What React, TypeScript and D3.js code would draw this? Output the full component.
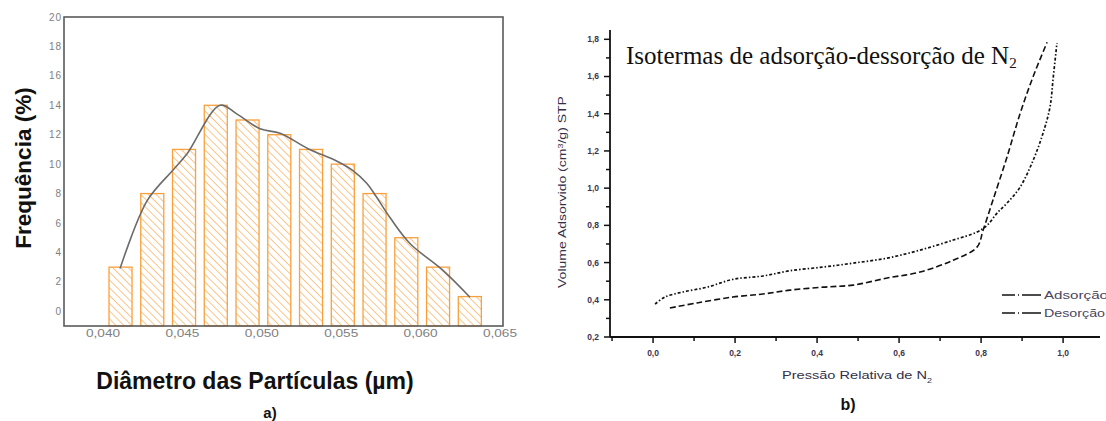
import React from 'react';
import * as d3 from 'd3';

// a) particle size histogram
const diameters = [0.0411, 0.0431, 0.0451, 0.0471, 0.0491, 0.0511, 0.0531, 0.0551, 0.0571, 0.0591, 0.0611, 0.0631];
const frequencies = [3, 8, 11, 14, 13, 12, 11, 10, 8, 5, 3, 1];
const fitX = [0.04107, 0.04277, 0.04441, 0.04529, 0.04737, 0.04844, 0.04989, 0.05115, 0.05291, 0.05474, 0.05574, 0.05662, 0.05807, 0.05933, 0.06141, 0.06311];
const fitY = [2.9, 7.5, 9.6, 10.7, 14.0, 13.4, 12.4, 12.1, 11.05, 10.2, 9.56, 8.68, 6.37, 4.61, 2.78, 0.95];
const histXTicks = [0.040, 0.045, 0.050, 0.055, 0.060, 0.065];
const histYTicks = [0, 2, 4, 6, 8, 10, 12, 14, 16, 18, 20];

// b) N2 isotherms
const adsP = [0.041, 0.107, 0.195, 0.268, 0.334, 0.415, 0.488, 0.571, 0.651, 0.732, 0.790, 0.805, 0.829, 0.863, 0.895, 0.927, 0.961];
const adsV = [0.356, 0.383, 0.415, 0.431, 0.452, 0.468, 0.479, 0.517, 0.549, 0.613, 0.683, 0.775, 0.936, 1.166, 1.400, 1.600, 1.784];
const desP = [0.005, 0.029, 0.073, 0.132, 0.195, 0.268, 0.334, 0.415, 0.488, 0.571, 0.651, 0.732, 0.790, 0.815, 0.839, 0.863, 0.895, 0.927, 0.951, 0.968, 0.976, 0.985];
const desV = [0.377, 0.415, 0.442, 0.468, 0.510, 0.528, 0.556, 0.576, 0.597, 0.624, 0.667, 0.721, 0.764, 0.801, 0.866, 0.919, 1.005, 1.15, 1.295, 1.435, 1.596, 1.78];
const isoXTicks = [0, 0.2, 0.4, 0.6, 0.8, 1.0];
const isoXMinor = [-0.1, 0.1, 0.3, 0.5, 0.7, 0.9];
const isoYTicks = [0.2, 0.4, 0.6, 0.8, 1.0, 1.2, 1.4, 1.6, 1.8];
const isoYMinor = [0.3, 0.5, 0.7, 0.9, 1.1, 1.3, 1.5, 1.7];
const seriesNames = ['Adsorção', 'Desorção'];

const orange = '#f9a03c';
const comma = (f: string) => (v: number) => d3.format(f)(v).replace('.', ',');

export default function App() {
  // histogram scales
  const hx = d3.scaleLinear().domain([0.03754, 0.06519]).range([64, 503]);
  const hy = d3.scaleLinear().domain([-1, 20]).range([326, 17]);
  const barW = hx(0.0411 + 0.00145) - hx(0.0411);
  const fitLine = d3.line<number>()
    .x((d, i) => hx(fitX[i]))
    .y(d => hy(d))
    .curve(d3.curveCatmullRom.alpha(0.5));

  // isotherm scales
  const ix = d3.scaleLinear().domain([-0.105, 1.09]).range([610, 1100]);
  const iy = d3.scaleLinear().domain([0.2, 1.85]).range([337, 30]);
  const adsLine = d3.line<number>().x((d, i) => ix(adsP[i])).y(d => iy(d)).curve(d3.curveCatmullRom.alpha(0.5));
  const desLine = d3.line<number>().x((d, i) => ix(desP[i])).y(d => iy(d)).curve(d3.curveCatmullRom.alpha(0.5));
  const dashes = ['6,3', '3,2,1.5,2'];

  return (
    <svg width={1106} height={421} style={{ position: 'absolute', left: 0, top: 0, background: '#fff' }}
      fontFamily="'Liberation Sans', Arial, sans-serif">
      <defs>
        <pattern id="hatch" patternUnits="userSpaceOnUse" width={5.5} height={5.5} patternTransform="rotate(-45)">
          <line x1={0} y1={0} x2={0} y2={5.5} stroke={orange} strokeWidth={1.2} />
        </pattern>
      </defs>

      {/* ---------- a) ---------- */}
      {diameters.map((d, i) => (
        <rect key={i} x={hx(d) - barW / 2} y={hy(frequencies[i])} width={barW}
          height={hy.range()[0] - hy(frequencies[i])}
          fill="url(#hatch)" stroke={orange} strokeWidth={1.3} />
      ))}
      <path d={fitLine(fitY) || ''} fill="none" stroke="#6b6b6b" strokeWidth={1.6} />
      <rect x={64} y={17} width={503 - 64} height={326 - 17} fill="none" stroke="#5a5a5a" strokeWidth={1.6} />
      {histYTicks.map(t => (
        <text key={t} x={62} y={hy(t)} dy="0.35em" textAnchor="end" fontSize={10} letterSpacing={1} fill="#808080">{t}</text>
      ))}
      {histXTicks.map(t => (
        <text key={t} x={hx(t) - 17} y={337} fontSize={10} textLength={34} lengthAdjust="spacingAndGlyphs" fill="#808080">{comma('.3f')(t)}</text>
      ))}
      <text transform="translate(31,168) rotate(-90)" textAnchor="middle" fontSize={22.5} fontWeight="bold" fill="#111">Frequência (%)</text>
      <text x={255} y={389} textAnchor="middle" fontSize={23} fontWeight="bold" fill="#111">Diâmetro das Partículas (µm)</text>
      <text x={270} y={418} textAnchor="middle" fontSize={15} fontWeight="bold" fill="#111">a)</text>

      {/* ---------- b) ---------- */}
      <path d={adsLine(adsV) || ''} fill="none" stroke="#111" strokeWidth={1.6} strokeDasharray={dashes[0]} />
      <path d={desLine(desV) || ''} fill="none" stroke="#111" strokeWidth={1.7} strokeDasharray={dashes[1]} />

      <line x1={610} y1={iy(1.85)} x2={610} y2={337} stroke="#111" strokeWidth={1.8} />
      <line x1={610} y1={337} x2={1100} y2={337} stroke="#111" strokeWidth={1.8} />
      {isoYTicks.map(t => (
        <g key={t}>
          <line x1={604} x2={610} y1={iy(t)} y2={iy(t)} stroke="#111" strokeWidth={1.5} />
          <text x={599} y={iy(t)} dy="0.35em" textAnchor="end" fontSize={8.5} fontWeight="bold" fill="#3a3550">{comma('.1f')(t)}</text>
        </g>
      ))}
      {isoYMinor.map(t => (
        <line key={t} x1={606} x2={610} y1={iy(t)} y2={iy(t)} stroke="#111" strokeWidth={1.5} />
      ))}
      {isoXTicks.map(t => (
        <g key={t}>
          <line x1={ix(t)} x2={ix(t)} y1={337} y2={343} stroke="#111" strokeWidth={1.5} />
          <text x={ix(t)} y={356} textAnchor="middle" fontSize={8.5} fontWeight="bold" fill="#3a3550">{comma('.1f')(t)}</text>
        </g>
      ))}
      {isoXMinor.map(t => (
        <line key={t} x1={ix(t)} x2={ix(t)} y1={337} y2={341} stroke="#111" strokeWidth={1.5} />
      ))}
      <text transform="translate(566,288) rotate(-90)" fontSize={11} textLength={192} lengthAdjust="spacingAndGlyphs" fill="#333048">
        Volume Adsorvido (cm<tspan baselineShift="super" fontSize={7}>3</tspan>/g) STP
      </text>
      <text x={782} y={379} fontSize={11.5} textLength={150} lengthAdjust="spacingAndGlyphs" fill="#333048">
        Pressão Relativa de N<tspan baselineShift="sub" fontSize={7}>2</tspan>
      </text>
      <text x={848} y={410} textAnchor="middle" fontSize={16} fontWeight="bold" fill="#111">b)</text>
      <text x={626} y={64} fontSize={25} fontFamily="'Liberation Serif', 'Times New Roman', serif" fill="#111">
        Isotermas de adsorção-dessorção de N<tspan dy={4} fontSize={15}>2</tspan>
      </text>

      {seriesNames.map((name, i) => (
        <g key={name} transform={`translate(0,${295 + i * 18})`}>
          <line x1={1002} x2={1015} y1={0} y2={0} stroke="#111" strokeWidth={1.5} />
          <line x1={1018} x2={1019} y1={0} y2={0} stroke="#111" strokeWidth={1.5} />
          <line x1={1022} x2={1041} y1={0} y2={0} stroke="#111" strokeWidth={1.5} />
          <text x={1044} y={0} dy="0.35em" fontSize={11.5} textLength={i === 0 ? 64 : 61} lengthAdjust="spacingAndGlyphs" fill="#4a4560">{name}</text>
        </g>
      ))}
    </svg>
  );
}
